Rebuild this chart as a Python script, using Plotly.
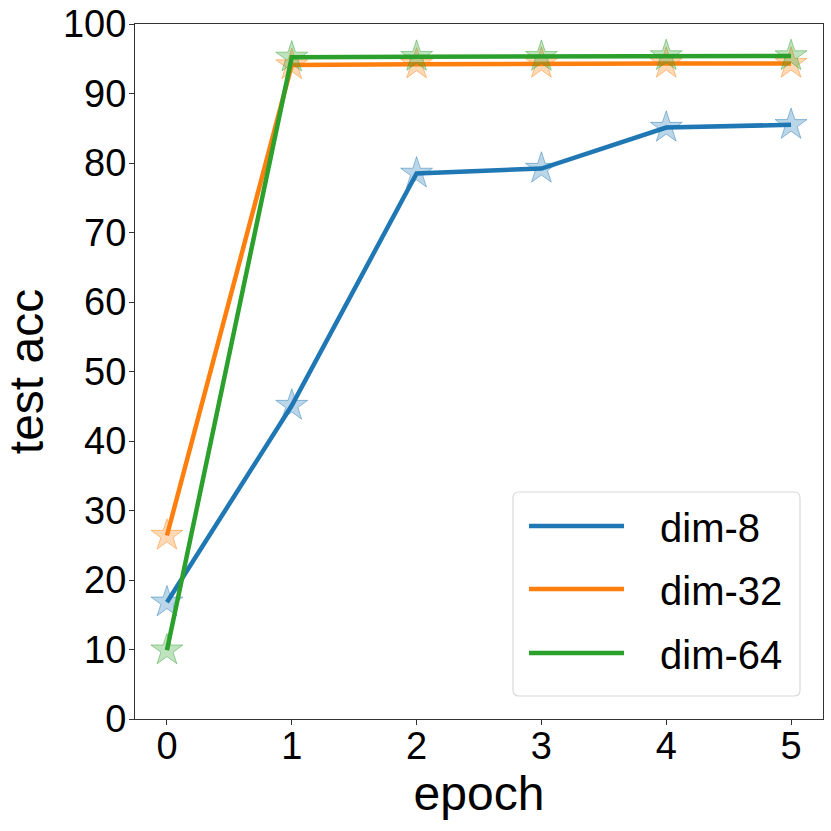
import plotly.graph_objects as go

epochs = [0, 1, 2, 3, 4, 5]
series_names = ["dim-8", "dim-32", "dim-64"]
dim8 = [16.8, 45.1, 78.5, 79.2, 85.1, 85.5]
dim32 = [26.4, 94.1, 94.2, 94.3, 94.3, 94.3]
dim64 = [9.9, 95.2, 95.3, 95.3, 95.4, 95.4]
series_values = [dim8, dim32, dim64]
colors = ["#1f77b4", "#ff7f0e", "#2ca02c"]
fills = ["rgba(31,119,180,0.3)", "rgba(255,127,14,0.3)", "rgba(44,160,44,0.3)"]
edges = ["rgba(31,119,180,0.45)", "rgba(255,127,14,0.45)", "rgba(44,160,44,0.45)"]
x_ticks = [0, 1, 2, 3, 4, 5]
y_ticks = list(range(0, 101, 10))

FONT = "Liberation Sans"
W = H = 831
# plot area in page pixels: x 135..823, y 24..719
L, T = 135, 24
R = W - 823
B = H - 719
pw, ph = W - L - R, H - T - B

def px(xp):
    return (xp - L) / pw

def py(yp):
    return (H - B - yp) / ph

fig = go.Figure()
for name, vals, c, f, e in zip(series_names, series_values, colors, fills, edges):
    fig.add_trace(go.Scatter(
        x=epochs, y=vals, name=name, mode="lines+markers",
        line=dict(color=c, width=4.5),
        marker=dict(symbol="star", size=24, color=f, line=dict(color=e, width=1)),
        showlegend=False,
    ))

# Legend (rounded box)
x0, x1, y0, y1 = px(513), px(800), py(696), py(492)
rx, ry = 6 / pw, 6 / ph
path = (f"M{x0+rx},{y0} L{x1-rx},{y0} Q{x1},{y0} {x1},{y0+ry} "
        f"L{x1},{y1-ry} Q{x1},{y1} {x1-rx},{y1} L{x0+rx},{y1} "
        f"Q{x0},{y1} {x0},{y1-ry} L{x0},{y0+ry} Q{x0},{y0} {x0+rx},{y0} Z")
shapes = [dict(type="path", xref="paper", yref="paper", path=path,
               line=dict(color="#d9d9d9", width=1.2), fillcolor="rgba(255,255,255,0.8)")]
annotations = []
for i, (name, c) in enumerate(zip(series_names, colors)):
    ly = [526, 589, 653][i]
    shapes.append(dict(type="line", xref="paper", yref="paper",
                       x0=px(529), x1=px(624), y0=py(ly), y1=py(ly),
                       line=dict(color=c, width=4.5)))
    annotations.append(dict(xref="paper", yref="paper", x=px(658), y=py(ly + 2),
                            text=name, showarrow=False, xanchor="left", yanchor="middle",
                            font=dict(family=FONT, size=40, color="black")))

axis_common = dict(
    showline=True, linecolor="#333333", linewidth=1.2, mirror=True,
    ticks="outside", ticklen=5, tickwidth=1.2, tickcolor="#333333",
    showgrid=False, zeroline=False, automargin=False,
    tickfont=dict(family=FONT, size=38, color="black"),
)

fig.update_layout(
    width=W, height=H,
    margin=dict(l=L, r=R, t=T, b=B, pad=0),
    paper_bgcolor="white", plot_bgcolor="white",
    xaxis=dict(range=[-0.256, 5.256], tickvals=x_ticks, ticklabelstandoff=-12,
               title=dict(text="epoch", font=dict(family=FONT, size=48, color="black"), standoff=4),
               **axis_common),
    yaxis=dict(range=[0, 100], tickvals=y_ticks, ticklabelstandoff=-5,
               title=dict(text="test acc", font=dict(family=FONT, size=48, color="black"), standoff=6),
               **axis_common),
    shapes=shapes, annotations=annotations,
)

fig.write_html("out.html", config={"displayModeBar": False},
               post_script="document.body.style.margin='0';")
